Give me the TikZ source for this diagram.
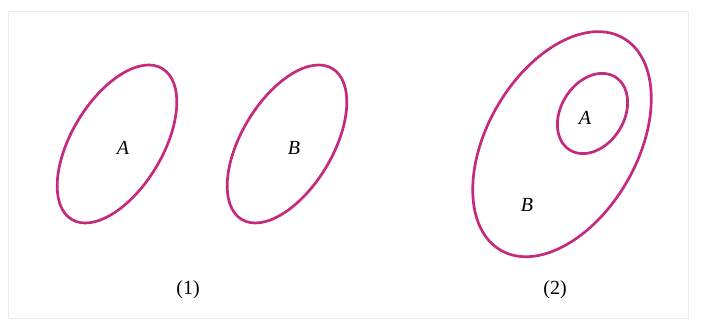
\documentclass[tikz,border=0pt]{standalone}
\usepackage{fontspec}
\setmainfont{Liberation Serif}
\usepackage{xcolor}
\usepackage{tikz}
\usetikzlibrary{calc}
\definecolor{setpink}{HTML}{C42A7E}
\definecolor{framegray}{HTML}{ECECEC}

\begin{document}
\begin{tikzpicture}[x=0.5pt,y=0.5pt]
  \useasboundingbox (0,0) rectangle (705,324);
  \draw[framegray,thin] (8,6) rectangle (688,313);
  \coordinate (CA) at (117,180);
  \coordinate (CB) at (287,180);
  \coordinate (CO) at (562,179.8);
  \coordinate (CI) at (592.5,210.5);
  \foreach \c in {CA,CB}
    \draw[setpink,line width=1.35pt,rotate around={59:(\c)}] (\c) ellipse (88 and 45.5);
  \draw[setpink,line width=1.35pt,rotate around={60:(CO)}] (CO) ellipse (122.5 and 75);
  \draw[setpink,line width=1.35pt,rotate around={58:(CI)}] (CI) ellipse (43 and 31.5);
  \node (labA)  at ($(CA)+(6,-4)$)     {\textit{A}};
  \node (labB)  at ($(CB)+(7,-4)$)     {\textit{B}};
  \node (labAi) at ($(CI)+(-7.5,-4.5)$) {\textit{A}};
  \node (labBo) at ($(CO)+(-35,-61)$)  {\textit{B}};
  \node (cap1) at (188,34) {(1)};
  \node (cap2) at (555,34) {(2)};
\end{tikzpicture}
\end{document}
